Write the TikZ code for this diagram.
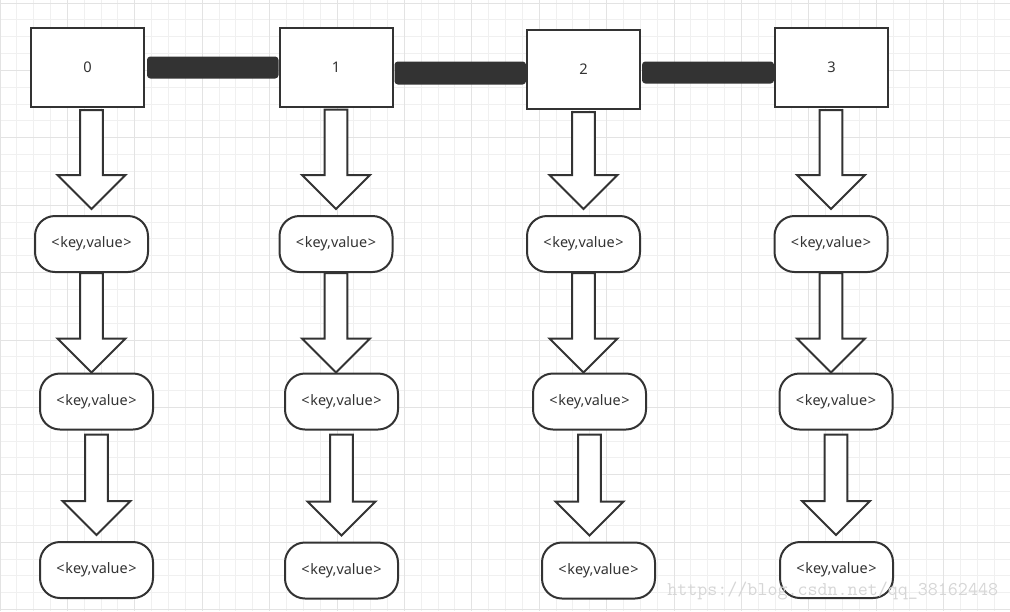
\documentclass[tikz,border=0pt]{standalone}
\usepackage{fontspec}
\setmainfont{Noto Sans}
\usetikzlibrary{calc}
\definecolor{ink}{HTML}{333333}
\definecolor{gridminor}{HTML}{F0F0F0}
\definecolor{gridmajor}{HTML}{E3E3E3}
\definecolor{wm}{HTML}{D6D6D6}
\newcommand\hollowarrow[3]{%
  \draw[blk] let \p1=#1, \p2=#2, \p3=#3 in
    (\x1-8.6pt,\y2) -- (\x1-8.6pt,\y3+25.5pt) -- (\x1-25.5pt,\y3+25.5pt) -- (\x1,\y3)
    -- (\x1+25.5pt,\y3+25.5pt) -- (\x1+8.6pt,\y3+25.5pt) -- (\x1+8.6pt,\y2) -- cycle;}
\newcommand\kvtext{<\kern0.6pt key,value\kern0.6pt >}
\begin{document}
\begin{tikzpicture}[x=0.75pt,y=-0.75pt,
  box/.style={draw=ink,line width=1.5pt,fill=white,minimum width=84.75pt,minimum height=59.25pt,inner sep=0pt,text=ink,font=\fontsize{11}{13}\selectfont},
  kv/.style={draw=ink,line width=1.5pt,fill=white,rounded corners=15pt,minimum width=84.75pt,minimum height=42pt,inner sep=0pt,text=ink,font=\fontsize{10.8}{13}\selectfont},
  blk/.style={draw=ink,line width=1.5pt,fill=white,line join=miter},
  bar/.style={fill=ink,rounded corners=2.5pt},
  gmin/.style={draw=gridminor,line width=0.75pt},
  gmaj/.style={draw=gridmajor,line width=0.75pt}]
\useasboundingbox (0,0) rectangle (1010,611);
\fill[white] (0,0) rectangle (1010,611);
% grid
\foreach \k in {0,...,60} \draw[gmin] ({\k*16.85},0) -- ({\k*16.85},611);
\foreach \k in {0,...,36} \draw[gmin] (0,{3+\k*16.85}) -- (1010,{3+\k*16.85});
\foreach \k in {0,...,15} \draw[gmaj] ({\k*67.4},0) -- ({\k*67.4},611);
\foreach \k in {0,...,9} \draw[gmaj] (0,{3+\k*67.4}) -- (1010,{3+\k*67.4});
% top boxes
\node[box] (b0) at (87.5,67.5) {0};
\node[box] (b1) at (336,67) {1};
\node[box] (b2) at (583.5,69.5) {2};
\node[box] (b3) at (831.5,67.5) {3};
% thick links
\fill[bar] ($(b0.east)+(2,-11)$) rectangle ($(b1.west|-b0.east)+(0,11)$);
\fill[bar] ($(b1.east)+(1,-5.5)$) rectangle ($(b2.west|-b1.east)+(0,17.5)$);
\fill[bar] ($(b2.east)+(1,-8)$) rectangle ($(b3.west|-b2.east)+(0,14)$);
% key/value nodes
\node[kv] (k01) at (91.5,244) {\kvtext};
\node[kv] (k02) at (96.5,401.5) {\kvtext};
\node[kv] (k03) at (96.5,570) {\kvtext};
\node[kv] (k11) at (336,244) {\kvtext};
\node[kv] (k12) at (341.5,401.5) {\kvtext};
\node[kv] (k13) at (341.5,570.5) {\kvtext};
\node[kv] (k21) at (583.5,244) {\kvtext};
\node[kv] (k22) at (589.5,401.5) {\kvtext};
\node[kv] (k23) at (598.5,570.5) {\kvtext};
\node[kv] (k31) at (831,244) {\kvtext};
\node[kv] (k32) at (836,401.5) {\kvtext};
\node[kv] (k33) at (836.5,570) {\kvtext};
% hollow arrows
\foreach \c in {0,1,2,3}{
  \hollowarrow{(k\c1)}{($(b\c.south)+(0,2)$)}{($(k\c1.north)+(0,-6)$)}
  \hollowarrow{(k\c1)}{(k\c1.south)}{(k\c2.north)}
  \hollowarrow{(k\c2)}{($(k\c2.south)+(0,4)$)}{($(k\c3.north)+(0,-6)$)}
}
% watermark
\node[text=wm,font=\ttfamily\fontsize{14.6}{16}\selectfont,anchor=west,inner sep=0pt] (wm) at (667,591) {https://blog.csdn.net/qq\_38162448};
\end{tikzpicture}
\end{document}
